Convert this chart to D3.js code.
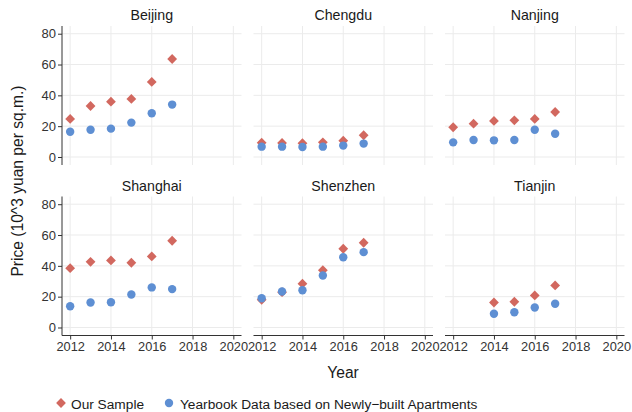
<!DOCTYPE html>
<html><head><meta charset="utf-8">
<script src="https://cdn.jsdelivr.net/npm/d3@7"></script>
<style>body{margin:0;background:#fff}text{font-family:"Liberation Sans",Arial,sans-serif}</style>
</head><body><svg id="c" width="632" height="412"></svg>
<script>
const cities = ["Beijing","Chengdu","Nanjing","Shanghai","Shenzhen","Tianjin"];
const years = [2012,2013,2014,2015,2016,2017];
const sampleVals = {
  Beijing:  [24.7,33.1,35.9,37.7,48.7,63.6],
  Chengdu:  [9.3,9.1,8.9,9.5,10.6,14.1],
  Nanjing:  [19.3,21.6,23.4,23.8,24.7,29.2],
  Shanghai: [38.5,42.6,43.5,42.0,46.1,56.3],
  Shenzhen: [18.0,22.9,28.4,37.2,51.1,55.0],
  Tianjin:  [null,null,16.2,16.7,20.8,27.3]
};
const yearbookVals = {
  Beijing:  [16.4,17.7,18.4,22.3,28.4,34.0],
  Chengdu:  [6.7,6.7,6.5,6.7,7.4,8.7],
  Nanjing:  [9.5,11.0,10.8,11.0,17.7,15.1],
  Shanghai: [13.8,16.2,16.4,21.4,26.0,24.9],
  Shenzhen: [19.0,23.4,24.2,33.7,45.6,48.9],
  Tianjin:  [null,null,8.9,9.9,13.0,15.4]
};
const xTicks = [2012,2014,2016,2018,2020];
const yTicks = [0,20,40,60,80];
const seriesNames = ["Our Sample","Yearbook Data based on Newly\u2212built Apartments"];

const red = "#d2685f", blue = "#5e8fd3";
const svg = d3.select("#c");
const pw = 179.5, ph = 139;
const lefts = [62, 253.5, 445], tops = [26, 196.5];
const x = d3.scaleLinear().domain([2011.6, 2020.4]).range([0, pw]);
const y = d3.scaleLinear().domain([-5.2, 85]).range([ph, 0]);
const FF = '"Liberation Sans",Arial,sans-serif';

cities.forEach((c, i) => {
  const col = i % 3, row = Math.floor(i / 3);
  const g = svg.append("g").attr("transform", `translate(${lefts[col]},${tops[row]})`);
  g.selectAll(".gx").data(xTicks).join("line")
    .attr("x1", d => x(d)).attr("x2", d => x(d)).attr("y1", 0).attr("y2", ph)
    .attr("stroke", "#ebebeb").attr("stroke-width", 1);
  g.selectAll(".gy").data(yTicks).join("line")
    .attr("y1", d => y(d)).attr("y2", d => y(d)).attr("x1", 0).attr("x2", pw)
    .attr("stroke", "#ebebeb").attr("stroke-width", 1);
  g.append("text").attr("x", pw / 2).attr("y", -6).attr("text-anchor", "middle")
    .attr("font-size", 14.2).attr("fill", "#1a1a1a").text(c);
  if (col === 0) {
    const ya = g.append("g").call(d3.axisLeft(y).tickValues(yTicks).tickSize(4).tickPadding(2));
    ya.select(".domain").attr("stroke", "#333").attr("d", `M0,0V${ph}`);
    ya.selectAll(".tick line").attr("stroke", "#333");
    ya.selectAll("text").attr("font-size", 13).attr("fill", "#333").style("font-family", FF);
  }
  if (row === 1) {
    const xa = g.append("g").attr("transform", `translate(0,${ph})`)
      .call(d3.axisBottom(x).tickValues(xTicks).tickFormat(d3.format("d")).tickSize(4).tickPadding(2));
    xa.select(".domain").attr("stroke", "#333").attr("d", `M0,0H${pw}`);
    xa.selectAll(".tick line").attr("stroke", "#333");
    xa.selectAll("text").attr("font-size", 12.8).attr("fill", "#333").style("font-family", FF);
  }
  const sData = years.map((yr, k) => ({yr, v: sampleVals[c][k]})).filter(d => d.v != null);
  const bData = years.map((yr, k) => ({yr, v: yearbookVals[c][k]})).filter(d => d.v != null);
  g.selectAll(".s").data(sData).join("path")
    .attr("d", d3.symbol(d3.symbolSquare, 48)())
    .attr("transform", d => `translate(${x(d.yr)},${y(d.v)}) rotate(45)`)
    .attr("fill", red);
  g.selectAll(".b").data(bData).join("circle")
    .attr("cx", d => x(d.yr)).attr("cy", d => y(d.v)).attr("r", 4.2)
    .attr("fill", blue);
});

svg.append("text").attr("transform", "translate(22.5,181) rotate(-90)")
  .attr("text-anchor", "middle").attr("font-size", 15.6).attr("fill", "#1a1a1a")
  .text("Price (10^3 yuan per sq.m.)");
svg.append("text").attr("x", 343).attr("y", 378).attr("text-anchor", "middle")
  .attr("font-size", 15.6).attr("fill", "#1a1a1a").text("Year");

const lg = svg.append("g");
lg.append("path").attr("d", d3.symbol(d3.symbolSquare, 48)())
  .attr("transform", "translate(61,403) rotate(45)").attr("fill", red);
lg.append("text").attr("x", 71).attr("y", 408.5).attr("font-size", 13.7).attr("fill", "#1a1a1a").text(seriesNames[0]);
lg.append("circle").attr("cx", 169).attr("cy", 403).attr("r", 4.2).attr("fill", blue);
lg.append("text").attr("x", 180).attr("y", 408.5).attr("font-size", 13.7).attr("fill", "#1a1a1a").text(seriesNames[1]);
</script></body></html>
